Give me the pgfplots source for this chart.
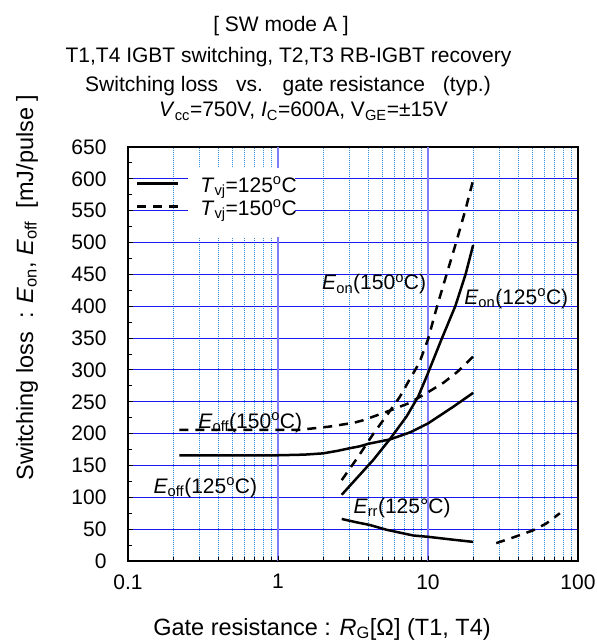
\documentclass[border=0pt]{standalone}
\usepackage{fontspec}
\setmainfont{Liberation Sans}
\usepackage{pgfplots}
\pgfplotsset{compat=1.18}
\definecolor{hgrid}{RGB}{25,25,240}
\definecolor{vmaj}{RGB}{125,125,250}
\definecolor{vmin}{RGB}{50,140,220}
\newcommand{\fs}{\fontsize{21bp}{25bp}\selectfont}
\newcommand{\fl}{\fontsize{23.5bp}{28bp}\selectfont}
\begin{document}
\begin{tikzpicture}[font=\fs]
\useasboundingbox (0,0) rectangle (597bp,641bp);
\begin{axis}[
 at={(128bp,80bp)}, anchor=south west,
 scale only axis, width=450bp, height=414bp,
 xmode=log, xmin=0.1, xmax=100, ymin=0, ymax=650,
 xtick={0.1,1,10,100}, xticklabels={0.1,1,10,100},
 minor xtick={0.2,0.3,0.4,0.5,0.6,0.7,0.8,0.9,2,3,4,5,6,7,8,9,20,30,40,50,60,70,80,90},
 ytick={0,50,...,650}, minor y tick num=1,
 xtick pos=left, ytick pos=left,
 ymajorgrids, xminorgrids,
 major grid style={hgrid, line width=1bp},
 minor grid style={vmin, line width=0.8bp, dash pattern=on 1bp off 1bp},
 extra x ticks={1,10}, extra x tick labels={},
 extra x tick style={grid=major, major grid style={vmaj, line width=1.5bp}},
 axis line style={line width=1.5bp},
 tick style={black, line width=1bp},
 major tick length=5bp, minor tick length=4bp,
 tick label style={font=\fs},
 yticklabel style={xshift=-18bp},
 xticklabel style={yshift=-10bp},
 /pgf/number format/assume math mode=true,
 legend style={at={(axis description cs:0.01778,0.9275)}, anchor=north west,
   draw=none, fill=none, inner sep=0pt, outer sep=0pt, row sep=3bp,
   nodes={inner sep=0pt, text height=15bp, text depth=5bp, font=\fs},
   /tikz/every odd column/.append style={column sep=21bp}},
 legend cell align=left,
 legend image code/.code={\draw[#1] (0bp,3.7bp) -- (41bp,3.7bp);},
]
\fill[white] (axis cs:0.251,508.7) rectangle (axis cs:1.298,617);
\addlegendimage{black, line width=2.5bp}
\addlegendentry{\textit{T}\textsubscript{vj}=125\textsuperscript{o}C}
\addlegendimage{black, line width=2.5bp, dash pattern=on 9bp off 7bp}
\addlegendentry{\textit{T}\textsubscript{vj}=150\textsuperscript{o}C}
% Eoff 125
\addplot[forget plot, black, line width=2.5bp] table {
x y
0.22 166
0.5 166
1 166
1.5 167
2 169
2.5 173
3 177
3.5 180
4 184
5.6 191
7.6 202
10 216
14.7 242
20 264
};
% Eoff 150
\addplot[forget plot, black, line width=2.5bp, dash pattern=on 9bp off 7bp] table {
x y
0.22 206
0.5 206
1 206
1.4 206
2.2 211
3.2 217
3.7 221
5.7 237
7.5 248
10 265
12.7 280
15.7 297
20 321
};
% Eon 125
\addplot[forget plot, black, line width=2.5bp] table {
x y
2.66 104
3.5 135
4.33 159
5.6 192
7.2 227
8.6 258
10 295
12.4 350
15.2 400
17.8 450
20 496
};
% Eon 150
\addplot[forget plot, black, line width=2.5bp, dash pattern=on 9bp off 7bp] table {
x y
2.66 127
3.43 164
4.33 200
5.44 232
6.5 258
7.5 284
8.75 311
10 348
11.5 400
13.3 450
15.4 500
17.7 550
20 598
};
% Err 125
\addplot[forget plot, black, line width=2.5bp] table {
x y
2.66 66
3.3 61
4.1 56.5
5.3 49
6.8 43.5
8 40
10 38
14 34
20 30
};
% dashed bottom right
\addplot[forget plot, black, line width=2.5bp, dash pattern=on 9bp off 7bp] table {
x y
28.5 28
37 37
50 48
61.6 59
75.7 75
};
\node[anchor=base west, inner sep=0pt] at (axis cs:1.965,425.5) {\textit{E}\textsubscript{on}(150\textsuperscript{o}C)};
\node[anchor=base west, inner sep=0pt] at (axis cs:17.4,403.5) {\textit{E}\textsubscript{on}(125\textsuperscript{o}C)};
\node[anchor=base west, inner sep=0pt] at (axis cs:0.294,208.3) {\textit{E}\textsubscript{off}(150\textsuperscript{o}C)};
\node[anchor=base west, inner sep=0pt] at (axis cs:0.1475,106.3) {\textit{E}\textsubscript{off}(125\textsuperscript{o}C)};
\node[anchor=base west, inner sep=0pt] at (axis cs:3.18,74.9) {\textit{E}\textsubscript{rr}(125°C)};
\end{axis}
\node[anchor=base, inner sep=0pt] at (281bp,609bp) {[ SW mode A ]};
\node[anchor=base, inner sep=0pt] at (288.5bp,578bp) {T1,T4 IGBT switching, T2,T3 RB-IGBT recovery};
\node[anchor=base, inner sep=0pt] at (288bp,549.5bp) {Switching loss\hspace{12bp} vs.\hspace{12bp} gate resistance\hspace{12bp} (typ.)};
\node[anchor=base west, inner sep=0pt] at (159bp,524bp) {\textit{V}\textsubscript{cc}=750V, \textit{I}\textsubscript{C}=600A, V\textsubscript{GE}=±15V};
\node[anchor=base, inner sep=0pt, font=\fl] at (322bp,6bp) {Gate resistance : \textit{R}\textsubscript{G}[Ω] (T1, T4)};
\node[anchor=base, inner sep=0pt, rotate=90, font=\fl] at (33bp,353.5bp) {Switching loss\ \ : \textit{E}\textsubscript{on}, \textit{E}\textsubscript{off}\ \ [mJ/pulse ]};
\end{tikzpicture}
\end{document}
